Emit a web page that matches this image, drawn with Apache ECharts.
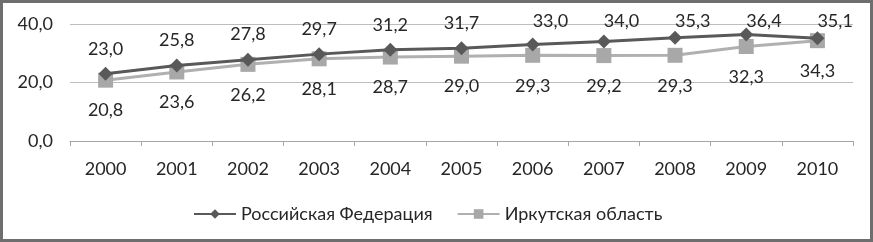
<!DOCTYPE html>
<html>
<head>
<meta charset="utf-8">
<script src="https://cdn.jsdelivr.net/npm/echarts@6/dist/echarts.min.js"></script>
<style>
  html, body { margin: 0; padding: 0; background: #fff; }
  #frame { position: absolute; left: 0; top: 0; width: 867px; height: 236px; border: 3px solid #6e6e6e; }
  #chart { width: 867px; height: 236px; }
</style>
</head>
<body>
<div id="frame"><div id="chart"></div></div>
<script>
// годы и значения
var years = ['2000', '2001', '2002', '2003', '2004', '2005', '2006', '2007', '2008', '2009', '2010'];
var rfValues = [23.0, 25.8, 27.8, 29.7, 31.2, 31.7, 33.0, 34.0, 35.3, 36.4, 35.1];
var irkValues = [20.8, 23.6, 26.2, 28.1, 28.7, 29.0, 29.3, 29.2, 29.3, 32.3, 34.3];
var seriesNames = ['Российская Федерация', 'Иркутская область'];

var fmt = function (v) { return v.toFixed(1).replace('.', ','); };
var font = 'Lato, "Open Sans", sans-serif';
var txt = '#262626';

var chart = echarts.init(document.getElementById('chart'));
chart.setOption({
    animation: false,
    grid: { left: 67, right: 17, top: 21, bottom: 98 },
    xAxis: {
        type: 'category',
        data: years,
        boundaryGap: true,
        axisLine: { lineStyle: { color: '#a6a6a6', width: 1 } },
        axisTick: { show: true, length: 5, lineStyle: { color: '#a6a6a6' } },
        axisLabel: { color: txt, fontFamily: font, fontSize: 18, margin: 19 }
    },
    yAxis: {
        type: 'value',
        min: 0, max: 40, interval: 20,
        axisLine: { show: false },
        axisTick: { show: false },
        splitLine: { lineStyle: { color: '#bdbdbd', width: 1 } },
        axisLabel: { color: txt, fontFamily: font, fontSize: 18, margin: 17, formatter: fmt }
    },
    legend: {
        top: 197,
        left: 185,
        itemGap: 24,
        itemWidth: 42,
        itemHeight: 12,
        textStyle: { color: txt, fontFamily: font, fontSize: 18 },
        data: seriesNames
    },
    series: [
        {
            name: seriesNames[0],
            type: 'line',
            data: rfValues,
            symbol: 'diamond',
            symbolSize: 14,
            z: 3,
            lineStyle: { color: '#595959', width: 3 },
            itemStyle: { color: '#595959' },
            label: { show: true, position: 'top', distance: 9, color: txt, fontFamily: font, fontSize: 18, formatter: function (p) { return fmt(p.value); } },
            // подписи у верхнего края не выходят за рамку
            labelLayout: function (p) {
                var r = p.labelRect;
                if (r.y < 9) {
                    return { y: 9 + r.height / 2, verticalAlign: 'middle' };
                }
                return {};
            }
        },
        {
            name: seriesNames[1],
            type: 'line',
            data: irkValues,
            symbol: 'rect',
            symbolSize: 15,
            z: 2,
            lineStyle: { color: '#b0b0b0', width: 3 },
            itemStyle: { color: '#a8a8a8' },
            label: { show: true, position: 'bottom', distance: 14, color: txt, fontFamily: font, fontSize: 18, formatter: function (p) { return fmt(p.value); } }
        }
    ]
});
</script>
</body>
</html>
